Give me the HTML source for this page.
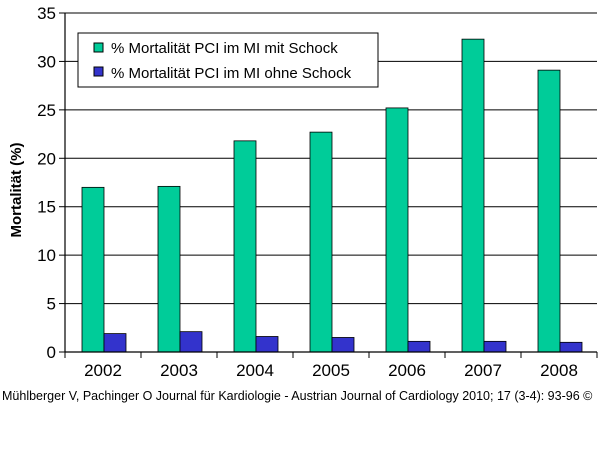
<!DOCTYPE html>
<html><head><meta charset="utf-8"><style>
body{margin:0;background:#fff;font-family:"Liberation Sans",sans-serif}
</style></head><body>
<svg id="chart" width="600" height="445" viewBox="0 0 600 445" xmlns="http://www.w3.org/2000/svg" font-family="Liberation Sans, sans-serif">
<g id="grid"></g><g id="bars"></g><g id="axes"></g>
<g>
<rect x="78" y="33" width="300" height="54" fill="#fff" stroke="#000"/>
<rect x="94" y="43" width="9" height="9" fill="#00cc99" stroke="#000"/>
<text x="111" y="53" font-size="15">% Mortalität PCI im MI mit Schock</text>
<rect x="94" y="67" width="9" height="9" fill="#3333cc" stroke="#000"/>
<text x="111" y="78" font-size="15">% Mortalität PCI im MI ohne Schock</text>
</g>
<text transform="translate(21,190) rotate(-90)" text-anchor="middle" font-size="15" font-weight="bold">Mortalität (%)</text>
<text x="2" y="400" font-size="12.5">Mühlberger V, Pachinger O Journal für Kardiologie - Austrian Journal of Cardiology 2010; 17 (3-4): 93-96 ©</text>
</svg>
<script>
const categories=["2002","2003","2004","2005","2006","2007","2008"];
const withShock=[17.0,17.1,21.8,22.7,25.2,32.3,29.1];
const withoutShock=[1.9,2.1,1.6,1.5,1.1,1.1,1.0];
const yTicks=[0,5,10,15,20,25,30,35];
const NS="http://www.w3.org/2000/svg";
const L=65,R=597,T=13,B=352,YMAX=35;
const cw=(R-L)/categories.length;
const y=v=>B-(v/YMAX)*(B-T);
const x=i=>L+i*cw;
function mk(tag,attrs,parent,text){const e=document.createElementNS(NS,tag);for(const k in attrs)e.setAttribute(k,attrs[k]);if(text!==undefined)e.textContent=text;parent.appendChild(e);return e;}
const grid=document.getElementById('grid'),bars=document.getElementById('bars'),axes=document.getElementById('axes');
yTicks.forEach(t=>{
 if(t>0){const g=mk('line',{x1:L,x2:R,y1:y(t),y2:y(t),stroke:'#000','stroke-width':1},grid);
 
 }
 mk('line',{x1:L-6,x2:L,y1:y(t),y2:y(t),stroke:'#000'},axes);
 const lb=mk('text',{x:L-9,y:y(t)+6,'text-anchor':'end','font-size':17},axes,String(t));
 
 
});
categories.forEach((c,i)=>{
 const b1=mk('rect',{x:x(i)+17,y:y(withShock[i]),width:22,height:B-y(withShock[i]),fill:'#00cc99',stroke:'#000','stroke-width':0.8},bars);
 
 
 const b2=mk('rect',{x:x(i)+39,y:y(withoutShock[i]),width:22,height:B-y(withoutShock[i]),fill:'#3333cc',stroke:'#000','stroke-width':0.8},bars);
 
 
 mk('line',{x1:x(i),x2:x(i),y1:B,y2:B+6,stroke:'#000'},axes);
 const lb=mk('text',{x:x(i)+cw/2,y:B+24,'text-anchor':'middle','font-size':17},axes,c);
 
 
});
mk('line',{x1:R,x2:R,y1:B,y2:B+6,stroke:'#000'},axes);
mk('line',{x1:L,x2:L,y1:T,y2:B,stroke:'#000','stroke-width':1.2},axes);
mk('line',{x1:L,x2:R,y1:B,y2:B,stroke:'#000','stroke-width':1.2},axes);
</script>
</body></html>
